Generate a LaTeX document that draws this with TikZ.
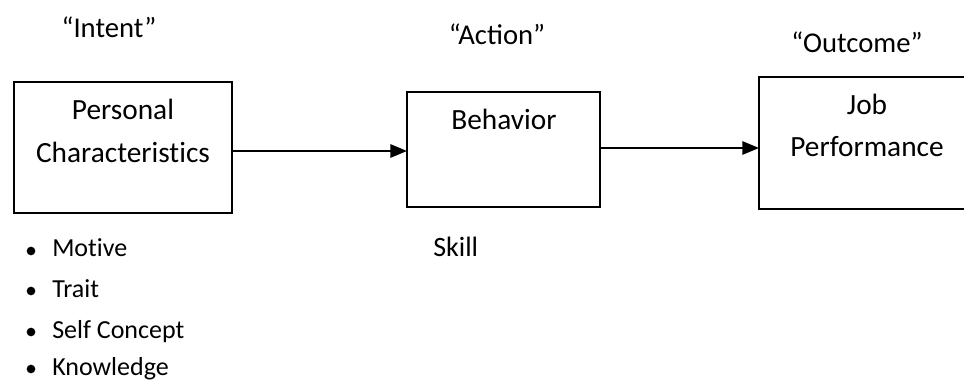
\documentclass[tikz,border=0pt]{standalone}
\usepackage{fontspec}
\setmainfont{Carlito}[Ligatures=NoCommon]
\newfontfamily\ligfont{Carlito}
\usetikzlibrary{arrows.meta}
\begin{document}
\begin{tikzpicture}[x=0.75pt,y=-0.75pt,
  every node/.style={font=\fontsize{19.5}{23}\selectfont, inner sep=0pt},
  stagebox/.style={draw, line width=1.7pt},
  flow/.style={line width=1.6pt, -{Triangle[length=12.5pt,width=10pt]}},
  caption/.style={anchor=base, font=\fontsize{21.5}{25}\selectfont},
  boxtext/.style={anchor=base, font=\fontsize{22}{26}\selectfont},
  item/.style={anchor=base west},
  dot/.style={circle, fill, inner sep=0pt, minimum size=6.5pt}]
  \useasboundingbox (0,0) rectangle (964,381);
  \clip (0,0) rectangle (964,381);
  % stage labels
  \node[caption] (intent)  at (109,38) {“Intent”};
  \node[caption, font=\ligfont\fontsize{21.5}{25}\selectfont] (action) at (497,45) {“Action”};
  \node[caption] (outcome) at (857,53) {“Outcome”};
  % stage boxes
  \draw[stagebox] (14,82) rectangle (232,213);
  \coordinate (pcR) at (232,151);
  \draw[stagebox] (407,92) rectangle (600,207);
  \coordinate (bhL) at (407,151);
  \coordinate (bhR) at (600,148);
  \draw[stagebox] (759,77) rectangle (990,209);
  \coordinate (jpL) at (759,148);
  % box texts
  \node[boxtext] (pc1) at (123,120) {Personal};
  \node[boxtext] (pc2) at (123,163) {Characteristics};
  \node[boxtext] (bh)  at (504,130) {Behavior};
  \node[boxtext] (jp1) at (867,115) {Job};
  \node[boxtext] (jp2) at (867,157) {Performance};
  % connectors
  \draw[flow] (pcR) -- (bhL);
  \draw[flow] (bhR) -- (jpL);
  % list of characteristics
  \node[dot] (b1) at (31,251) {};
  \node[dot] (b2) at (31,291) {};
  \node[dot] (b3) at (31,332) {};
  \node[dot] (b4) at (31,369) {};
  \node[item] (t1) at (52,257) {Motive};
  \node[item] (t2) at (52,297) {Trait};
  \node[item] (t3) at (52,338) {Self Concept};
  \node[item] (t4) at (52,375) {Knowledge};
  \node[item, font=\fontsize{21}{25}\selectfont] (skill) at (433,257) {Skill};
\end{tikzpicture}
\end{document}
